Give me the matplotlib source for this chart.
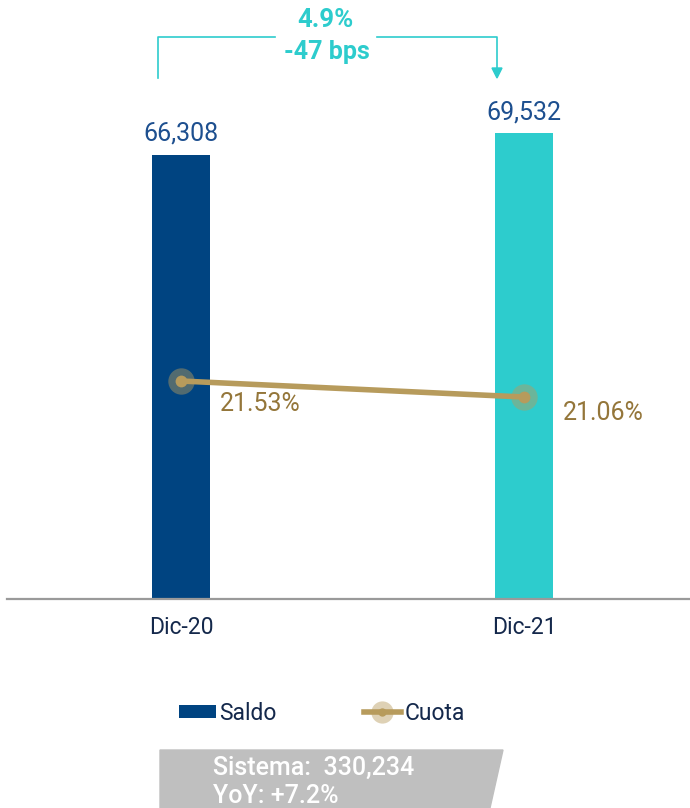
import matplotlib.pyplot as plt
from matplotlib.lines import Line2D
from matplotlib.patches import Patch, Polygon
from matplotlib.legend_handler import HandlerTuple

# datos
periodos = ['Dic-20', 'Dic-21']
saldo = [66308, 69532]
cuota = [21.53, 21.06]
saldo_txt = ['66,308', '69,532']
cuota_txt = ['21.53%', '21.06%']
var_saldo = '4.9%'
var_cuota = '-47 bps'
sistema_txt = 'Sistema:  330,234'
yoy_txt = 'YoY: +7.2%'

NAVY = '#004481'
TEAL = '#2dcccd'
GOLD = '#b79b5c'
GOLD_TXT = '#94763a'
LABEL = '#14284b'

plt.rcParams['font.family'] = ['Roboto', 'DejaVu Sans']

W, H = 690, 808
fig = plt.figure(figsize=(W / 100, H / 100), dpi=100)


def fx(px):
    return px / W


def fy(py):
    return 1 - py / H


ax = fig.add_axes([fx(7), fy(599), fx(683), 499 / H])
x = range(len(periodos))
ax.bar(x, saldo, width=0.17, color=[NAVY, TEAL], zorder=2)
ax.set_xlim(-0.507, 1.484)
ax.set_ylim(0, 74520)
for i in x:
    ax.annotate(saldo_txt[i], (i, saldo[i]), xytext=(0, 9), textcoords='offset pixels',
                ha='center', va='bottom', fontsize=18, color='#1d4f8f')

for s in ['top', 'right', 'left']:
    ax.spines[s].set_visible(False)
ax.spines['bottom'].set_color('#9a9a9a')
ax.spines['bottom'].set_linewidth(1.6)
ax.set_yticks([])
ax.set_xticks(list(x))
ax.set_xticklabels(periodos, fontsize=16.5, color=LABEL)
ax.tick_params(axis='x', length=0, pad=12)

ax2 = ax.twinx()
ax2.set_ylim(15.126, 29.786)
ax2.axis('off')
ax2.plot(x, cuota, color=GOLD, lw=4, zorder=3)
ax2.plot(x, cuota, 'o', color=GOLD, ms=19, alpha=0.45, mec='none', zorder=3)
ax2.plot(x, cuota, 'o', color=GOLD, ms=8.5, mec='none', zorder=4)
desp = [-23, -16]
for i in x:
    ax2.annotate(cuota_txt[i], (i, cuota[i]), xytext=(39, desp[i]),
                 textcoords='offset pixels', ha='left', va='center',
                 fontsize=18, color=GOLD_TXT)

# llave de variacion
lx, rx, top, low = 158, 497, 37, 78
fig.add_artist(Line2D([fx(lx), fx(lx), fx(275)], [fy(low), fy(top), fy(top)],
                      color=TEAL, lw=1.2))
fig.add_artist(Line2D([fx(377), fx(rx), fx(rx)], [fy(top), fy(top), fy(low - 8)],
                      color=TEAL, lw=1.2))
fig.add_artist(Polygon([[fx(rx - 5), fy(low - 10)], [fx(rx + 5), fy(low - 10)],
                        [fx(rx), fy(low)]], closed=True, color=TEAL,
                       transform=fig.transFigure))
fig.text(fx(325), fy(20), var_saldo, ha='center', va='center', fontsize=18.5,
         fontweight='bold', color=TEAL)
fig.text(fx(327), fy(52), var_cuota, ha='center', va='center', fontsize=18,
         fontweight='bold', color=TEAL)

# leyenda
h_saldo = Patch(facecolor=NAVY)
h_halo = Line2D([], [], marker='o', ms=16, color=GOLD, alpha=0.45, ls='none', mec='none')
h_line = Line2D([], [], color=GOLD, lw=4, marker='o', ms=6, mec='none')
fig.legend([h_saldo, (h_halo, h_line)], ['Saldo', 'Cuota'],
           handler_map={tuple: HandlerTuple(ndivide=1, pad=0)},
           loc='center', bbox_to_anchor=(fx(322), fy(713)), ncol=2, frameon=False,
           fontsize=16.5, labelcolor=LABEL, handlelength=1.6, handleheight=0.52,
           handletextpad=0.17, columnspacing=3.8, borderpad=0)

# caja sistema
fig.add_artist(Polygon([[fx(160), fy(750)], [fx(503), fy(750)], [fx(490), fy(808)],
                        [fx(160), fy(808)]], closed=True, color='#bfbfbf',
                       transform=fig.transFigure))
fig.text(fx(213), fy(768), sistema_txt, ha='left', va='center', fontsize=18,
         color='white', fontweight='medium')
fig.text(fx(213), fy(796), yoy_txt, ha='left', va='center', fontsize=18,
         color='white', fontweight='medium')

fig.savefig('out.png', dpi=100)
